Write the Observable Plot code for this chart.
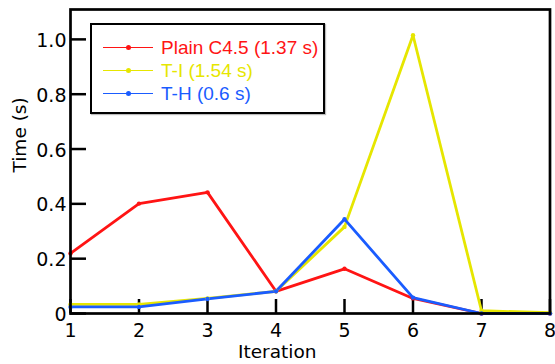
<!DOCTYPE html>
<html>
<head>
<meta charset="utf-8">
<script src="https://cdn.jsdelivr.net/npm/d3@7"></script>
<script src="https://cdn.jsdelivr.net/npm/@observablehq/plot@0.6"></script>
<style>
  html, body { margin: 0; padding: 0; background: #fff; }
  #wrap { position: relative; width: 555px; height: 364px; }
  #legend {
    position: absolute; left: 90px; top: 23px; width: 231px; height: 87px;
    border: 2.5px solid #000; background: #fff;
    box-shadow: 1px 1px 1px #bbb;
    font-family: "Liberation Sans", Arial, sans-serif; font-size: 19px;
  }
  .row { position: absolute; left: 0; height: 22px; display: flex; align-items: center; }
  .sw { position: relative; width: 50px; height: 22px; margin-left: 11px; margin-right: 8px; }
  .sw .ln { position: absolute; left: 0; right: 0; top: 10px; height: 1.6px; }
  .sw .dt { position: absolute; left: 23px; top: 8.5px; width: 5px; height: 5px; border-radius: 50%; }
</style>
</head>
<body>
<div id="wrap"></div>
<script>
const iterations = [1, 2, 3, 4, 5, 6, 7, 8];
const plainC45 = [0.219, 0.401, 0.442, 0.081, 0.163, 0.055, 0.0, 0.0];
const tI       = [0.033, 0.033, 0.055, 0.081, 0.316, 1.015, 0.010, 0.003];
const tH       = [0.024, 0.024, 0.053, 0.081, 0.344, 0.058, 0.0, 0.0];
const seriesNames = ["Plain C4.5 (1.37 s)", "T-I (1.54 s)", "T-H (0.6 s)"];
const seriesColors = ["#ff1414", "#e6e600", "#1a5cff"];
const yTicks = [0, 0.2, 0.4, 0.6, 0.8, 1.0];
const xTicks = [1, 2, 3, 4, 5, 6, 7, 8];

const seriesValues = [plainC45, tI, tH];
const data = seriesValues.flatMap((vals, s) =>
  iterations.map((it, i) => ({series: seriesNames[s], x: it, y: vals[i]})));

const W = 555, H = 364;
const mL = 70, mR = 5.5, mT = 9, mB = 51;
const plotW = W - mL - mR, plotH = H - mT - mB;
const font = "DejaVu Sans, sans-serif";

const chart = Plot.plot({
  width: W, height: H,
  marginLeft: mL, marginRight: mR, marginTop: mT, marginBottom: mB,
  style: {fontFamily: font, fontSize: "19px", color: "#000", background: "#fff"},
  x: {domain: [1, 8]},
  y: {domain: [0, 1.109]},
  color: {domain: seriesNames, range: seriesColors},
  marks: [
    Plot.axisY(yTicks, {tickSize: 0, tickPadding: 4, label: null, dy: 1.5,
      tickFormat: d => d === 0 ? "0" : d3.format(".1f")(d), fontSize: 19}),
    Plot.axisX(xTicks, {tickSize: 0, tickPadding: 10, label: null,
      tickFormat: d3.format("d"), fontSize: 19}),
    Plot.tickY(yTicks, {y: d => d, insetRight: plotW - 16, stroke: "#000", strokeWidth: 2.5}),
    Plot.tickX(xTicks, {x: d => d, insetTop: plotH - 14, stroke: "#000", strokeWidth: 2.5}),
    Plot.line(data, {x: "x", y: "y", z: "series", stroke: "series", strokeWidth: 2.8,
      strokeLinejoin: "round"}),
    Plot.dot(data, {x: "x", y: "y", fill: "series", r: 2.2}),
    Plot.frame({stroke: "#000", strokeWidth: 2.7}),
    Plot.text(["Time (s)"], {frameAnchor: "left", dx: -50, dy: 11, rotate: -90,
      fontSize: 18.5, fill: "#000"}),
    Plot.text(["Iteration"], {frameAnchor: "bottom", dx: -33, dy: 44,
      fontSize: 18.5, fill: "#000"})
  ]
});

const wrap = document.getElementById("wrap");
wrap.appendChild(chart);

const legend = document.createElement("div");
legend.id = "legend";
const rowTops = [11.5, 34.5, 57.5];
seriesNames.forEach((name, i) => {
  const row = document.createElement("div");
  row.className = "row";
  row.style.top = rowTops[i] + "px";
  const sw = document.createElement("div");
  sw.className = "sw";
  const ln = document.createElement("div"); ln.className = "ln"; ln.style.background = seriesColors[i];
  const dt = document.createElement("div"); dt.className = "dt"; dt.style.background = seriesColors[i];
  sw.appendChild(ln); sw.appendChild(dt);
  const tx = document.createElement("span");
  tx.textContent = name; tx.style.color = seriesColors[i];
  row.appendChild(sw); row.appendChild(tx);
  legend.appendChild(row);
});
wrap.appendChild(legend);
</script>
</body>
</html>
